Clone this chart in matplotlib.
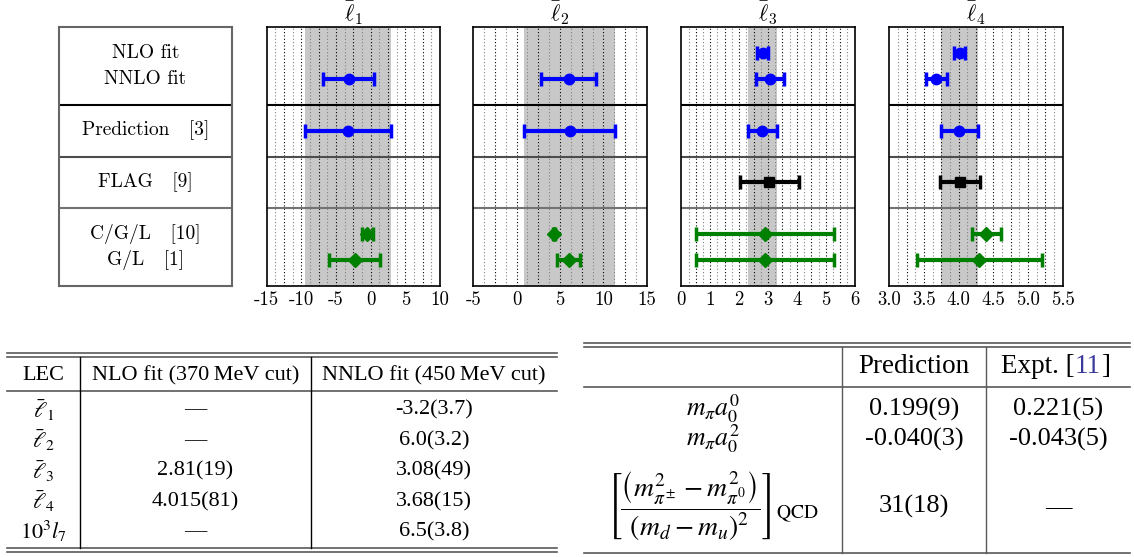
import numpy as np
import matplotlib
matplotlib.use('Agg')
import matplotlib.pyplot as plt

# ---- data ----
titles = [r'$\bar{\ell}_1$', r'$\bar{\ell}_2$', r'$\bar{\ell}_3$', r'$\bar{\ell}_4$']
xlims = [(-15, 10), (-5, 15), (0, 6), (3.0, 5.5)]
major_step = [5, 5, 1, 0.5]

nan = np.nan
nlo_val = [nan, nan, 2.81, 4.015]
nlo_err = [nan, nan, 0.19, 0.081]
nnlo_val = [-3.2, 6.0, 3.08, 3.68]
nnlo_err = [3.7, 3.2, 0.49, 0.15]
pred_val = [-3.3, 6.1, 2.8, 4.01]
pred_err = [6.2, 5.3, 0.5, 0.265]
flag_val = [nan, nan, 3.05, 4.02]
flag_err = [nan, nan, 1.02, 0.29]
cgl_val = [-0.5, 4.3, 2.9, 4.40]
cgl_err = [0.8, 0.1, 2.4, 0.21]
gl_val = [-2.3, 6.0, 2.9, 4.3]
gl_err = [3.7, 1.3, 2.4, 0.9]

row_labels = ['NLO fit', 'NNLO fit', 'Prediction   [3]', 'FLAG   [9]', 'C/G/L   [10]', 'G/L   [1]']
row_y = [9, 8, 6, 4, 2, 1]

# tables
lec_names = [r'$\bar{\ell}_1$', r'$\bar{\ell}_2$', r'$\bar{\ell}_3$', r'$\bar{\ell}_4$', r'$10^3l_7$']
lec_nlo = ['\u2014', '\u2014', '2.81(19)', '4.015(81)', '\u2014']
lec_nnlo = ['-3.2(3.7)', '6.0(3.2)', '3.08(49)', '3.68(15)', '6.5(3.8)']
lec_header = ['LEC', 'NLO fit (370\u2009MeV cut)', 'NNLO fit (450\u2009MeV cut)']

obs_names = [r'$m_\pi a_0^0$', r'$m_\pi a_0^2$',
             r'$\left[\dfrac{\left(m_{\pi^\pm}^2 - m_{\pi^0}^2\right)}{\left(m_d - m_u\right)^2}\right]_{\mathrm{QCD}}$']
obs_pred = ['0.199(9)', '-0.040(3)', '31(18)']
obs_expt = ['0.221(5)', '-0.043(5)', '\u2014']

plt.rcParams['axes.unicode_minus'] = False
W, H = 1134, 557
fig = plt.figure(figsize=(W / 100, H / 100), dpi=100)

def fx(px):
    return px / W

ax_bottom = (H - 286) / H
ax_h = 259 / H
ax_w = 173.4 / W
cm_font = 'cmr10'

# label box
lab = fig.add_axes([fx(58.7), ax_bottom, ax_w, ax_h])
lab.set_xlim(0, 1)
lab.set_ylim(0, 10)
lab.set_xticks([])
lab.set_yticks([])
for s in lab.spines.values():
    s.set_color('0.4')
    s.set_linewidth(1.5)
for txt, y in zip(row_labels, row_y):
    lab.text(0.5, y, txt, ha='center', va='center', fontsize=14, family=cm_font)
sep_y = [7, 5, 3]
sep_c = ['k', '0.3', '0.45']
for y, c in zip(sep_y, sep_c):
    lab.axhline(y, color=c, lw=1.5)

series = [
    (nlo_val, nlo_err, 9, 'blue', 'o', 7.5),
    (nnlo_val, nnlo_err, 8, 'blue', 'o', 7.5),
    (pred_val, pred_err, 6, 'blue', 'o', 7.5),
    (flag_val, flag_err, 4, 'black', 's', 7.5),
    (cgl_val, cgl_err, 2, 'green', 'D', 7),
    (gl_val, gl_err, 1, 'green', 'D', 7),
]

left_px = [266.7, 473.3, 681.3, 889.3]
for i in range(4):
    ax = fig.add_axes([fx(left_px[i]), ax_bottom, ax_w, ax_h])
    lo, hi = xlims[i]
    ax.set_xlim(lo, hi)
    ax.set_ylim(0, 10)
    ax.set_yticks([])
    st = major_step[i]
    ax.set_xticks(np.arange(lo, hi + st / 2, st))
    ax.tick_params(axis='x', length=0, pad=4, labelsize=13.5)
    for t in ax.get_xticklabels():
        t.set_family(cm_font)
    ax.set_title(titles[i], fontsize=16, pad=1, math_fontfamily='cm')
    # prediction band
    ax.axvspan(pred_val[i] - pred_err[i], pred_val[i] + pred_err[i], color='#c8c8c8', zorder=0, lw=0)
    # dotted grid
    fine = st / 4
    for k, xv in enumerate(np.arange(lo + fine, hi - fine / 2, fine)):
        c = 'k' if (k % 2 == 1) else '0.5'
        ax.axvline(xv, color=c, ls=(0, (1, 2)), lw=0.8, zorder=1)
    for y, c in zip(sep_y, sep_c):
        ax.axhline(y, color=c, lw=1.5, zorder=2)
    for vals, errs, y, col, mk, ms in series:
        if np.isnan(vals[i]):
            continue
        ax.errorbar(vals[i], y, xerr=errs[i], fmt=mk, color=col, ms=ms,
                    elinewidth=3, capsize=5, capthick=2.5, zorder=3)
    for s in ax.spines.values():
        s.set_linewidth(1.2)

# ---- tables (pixel coordinates overlay) ----
tb = fig.add_axes([0, 0, 1, 1], zorder=-1)
tb.set_xlim(0, W)
tb.set_ylim(H, 0)
tb.axis('off')
tfont = 'Liberation Serif'
fs = 16
fr = 19
rule_c = '0.35'

# left table
L_edges = [7, 79.5, 311, 557]
for y in [353.3, 357.3, 390.5, 548.3, 552.3]:
    tb.plot([L_edges[0], L_edges[-1]], [y, y], color=rule_c, lw=1.2)
for x in L_edges[1:-1]:
    tb.plot([x, x], [357.3, 548.3], color='k', lw=1.0)
L_cent = [(L_edges[j] + L_edges[j + 1]) / 2 for j in range(3)]
for j, h in enumerate(lec_header):
    tb.text(L_cent[j], 376, h, ha='center', va='center', fontsize=fs, family=tfont)
L_rows = [410, 440.5, 471, 501.5, 531.5]
for r, y in enumerate(L_rows):
    tb.text(L_cent[0], y, lec_names[r], ha='center', va='center', fontsize=fs,
            family=tfont, math_fontfamily='stix')
    tb.text(L_cent[1], y, lec_nlo[r], ha='center', va='center', fontsize=fs, family=tfont)
    tb.text(L_cent[2], y, lec_nnlo[r], ha='center', va='center', fontsize=fs, family=tfont)

# right table
R_edges = [584, 842, 986, 1130]
for y in [343.3, 347.3, 386.7, 552.7]:
    tb.plot([R_edges[0], R_edges[-1]], [y, y], color=rule_c, lw=1.2)
for x in R_edges[1:-1]:
    tb.plot([x, x], [347.3, 552.7], color=rule_c, lw=1.0)
R_cent = [(R_edges[j] + R_edges[j + 1]) / 2 for j in range(3)]
tb.text(R_cent[1], 366.7, 'Prediction', ha='center', va='center', fontsize=fr + 0.5, family=tfont)
t1 = tb.text(1001, 366.7, 'Expt. [', ha='left', va='center', fontsize=fr + 0.5, family=tfont)
t2 = tb.annotate('11', xy=(1, 0), xycoords=t1, ha='left', va='bottom', fontsize=fr + 0.5,
                 family=tfont, color='#3a3a9a')
tb.annotate(']', xy=(1, 0), xycoords=t2, ha='left', va='bottom', fontsize=fr + 0.5, family=tfont)
R_rows = [409, 439, 506.7]
name_fs = [18.5, 18.5, 20]
for r, y in enumerate(R_rows):
    tb.text(R_cent[0], y, obs_names[r], ha='center', va='center', fontsize=name_fs[r],
            family=tfont, math_fontfamily='stix')
    tb.text(R_cent[1], y, obs_pred[r], ha='center', va='center', fontsize=fr, family=tfont)
    tb.text(R_cent[2], y, obs_expt[r], ha='center', va='center', fontsize=fr, family=tfont)

fig.savefig('out.png', dpi=100)
